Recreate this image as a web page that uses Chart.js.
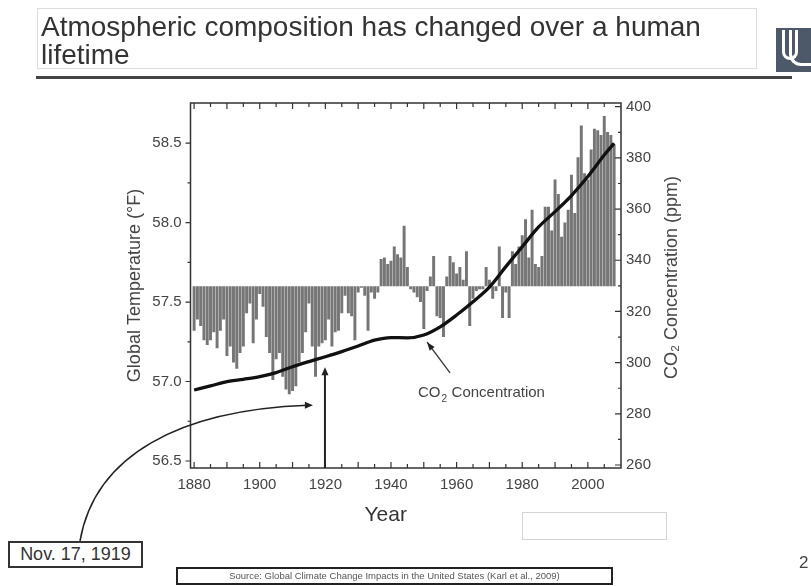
<!DOCTYPE html>
<html>
<head>
<meta charset="utf-8">
<script src="https://cdn.jsdelivr.net/npm/chart.js@4.4.1/dist/chart.umd.min.js"></script>
<style>
  body { margin: 0; background: #fff; font-family: "Liberation Sans", Arial, sans-serif; }
  #wrap { position: relative; width: 811px; height: 586px; overflow: hidden; }
  canvas { position: absolute; left: 0; top: 0; }
  .box { position: absolute; box-sizing: border-box; color: #333; }
</style>
</head>
<body>
<div id="wrap">
  <canvas id="myChart" width="811" height="586"></canvas>

  <div class="box" style="left:37px;top:8px;width:720px;height:61px;border:1px solid #ddd;font-size:28px;line-height:28px;padding:4px 0 0 3px;white-space:nowrap">Atmospheric composition has changed over a human<br>lifetime</div>
  <div class="box" style="left:36px;top:76px;width:756px;height:3px;background:#444"></div>
  <div class="box" style="left:776px;top:28px;width:35px;height:44px;background:#4d5868"></div>
  <div class="box" style="left:782px;top:30px;width:16px;height:30px;border:3px solid #fff;border-top:none;border-radius:0 0 9px 9px"></div>
  <div class="box" style="left:789px;top:30px;width:22px;height:36px;border:3px solid #fff;border-top:none;border-right:none;border-radius:0 0 0 12px"></div>

  <div class="box" style="left:8px;top:541px;width:135px;height:27px;border:2px solid #333;font-size:18px;line-height:23px;text-align:center;background:#fff">Nov. 17, 1919</div>
  <div class="box" style="left:522px;top:512px;width:145px;height:28px;border:1px solid #d4d4d4"></div>
  <div class="box" style="left:176px;top:567px;width:437px;height:18px;border:2px solid #222;font-size:9.5px;line-height:14px;text-align:center;color:#555">Source: Global Climate Change Impacts in the United States (Karl et al., 2009)</div>
  <div class="box" style="left:799px;top:553px;font-size:17px;color:#444">2</div>
</div>

<script>
// temperature bars, one per year (global temperature, °F)
const years = [];
for (let yr = 1880; yr <= 2008; yr++) years.push(yr);
const temps = [
  57.32, 57.39, 57.35, 57.26, 57.23, 57.26, 57.31, 57.21, 57.32, 57.39, // 1880s
  57.16, 57.22, 57.12, 57.08, 57.18, 57.22, 57.43, 57.49, 57.24, 57.39, // 1890s
  57.55, 57.47, 57.28, 57.18, 57.01, 57.14, 57.18, 57.03, 56.95, 56.92, // 1900s
  56.94, 56.97, 57.12, 57.18, 57.31, 57.49, 57.22, 57.03, 57.22, 57.24, // 1910s
  57.26, 57.39, 57.22, 57.31, 57.32, 57.43, 57.54, 57.43, 57.41, 57.26, // 1920s
  57.56, 57.59, 57.54, 57.32, 57.56, 57.52, 57.56, 57.77, 57.78, 57.74, // 1930s
  57.76, 57.85, 57.80, 57.78, 57.98, 57.72, 57.58, 57.56, 57.53, 57.50, // 1940s
  57.33, 57.57, 57.66, 57.79, 57.41, 57.40, 57.28, 57.66, 57.79, 57.75, // 1950s
  57.68, 57.72, 57.64, 57.82, 57.35, 57.52, 57.57, 57.58, 57.58, 57.72, // 1960s
  57.64, 57.52, 57.57, 57.85, 57.40, 57.56, 57.40, 57.82, 57.74, 57.85, // 1970s
  57.92, 58.02, 57.78, 58.08, 57.74, 57.72, 57.79, 58.10, 58.10, 57.95, // 1980s
  58.27, 58.18, 57.91, 58.00, 58.08, 58.30, 58.06, 58.41, 58.61, 58.31, // 1990s
  58.27, 58.46, 58.59, 58.58, 58.55, 58.67, 58.57, 58.55, 58.49        // 2000s
];
const baseTemp = 57.6;

// CO2 concentration curve (ppm)
const co2Years = [1880, 1885, 1890, 1895, 1900, 1905, 1910, 1915, 1920, 1925, 1930, 1935, 1940,
                  1945, 1950, 1955, 1960, 1965, 1970, 1975, 1980, 1985, 1990, 1995, 2000, 2005, 2008];
const co2Values = [289.3, 290.9, 292.6, 293.5, 294.5, 296.1, 298.4, 300.4, 302.3, 304.3, 306.5, 308.8, 309.8,
                   309.7, 310.8, 314.0, 318.6, 323.8, 329.5, 337.5, 345.3, 353.0, 359.0, 365.3, 372.7, 381.1, 385.7];

// tick labels
const yearTicks = [1880, 1900, 1920, 1940, 1960, 1980, 2000];
const tempTicks = [56.5, 57.0, 57.5, 58.0, 58.5];
const co2Ticks = [260, 280, 300, 320, 340, 360, 380, 400];

const eventDate = 1919 + 320 / 365; // Nov. 17, 1919

Chart.defaults.font.family = '"Liberation Sans", Arial, sans-serif';
Chart.defaults.color = '#444';

const frameAndNotes = {
  id: 'frameAndNotes',
  afterDatasetsDraw(chart) {
    const { ctx, chartArea: a, scales: { x, y, y1 } } = chart;
    ctx.save();

    // frame
    ctx.strokeStyle = '#333';
    ctx.lineWidth = 1.5;
    ctx.strokeRect(a.left, a.top, a.right - a.left, a.bottom - a.top);

    // ticks
    ctx.lineWidth = 1.2;
    ctx.beginPath();
    for (let yr = 1880; yr <= 2005; yr += 5) {
      const px = x.getPixelForValue(yr);
      const len = yr % 10 === 0 ? 6 : 4;
      ctx.moveTo(px, a.bottom); ctx.lineTo(px, a.bottom - len);
      ctx.moveTo(px, a.top); ctx.lineTo(px, a.top + len);
    }
    for (let t = 56.5; t <= 58.51; t += 0.25) {
      const py = y.getPixelForValue(t);
      const major = Math.abs(t * 2 - Math.round(t * 2)) < 0.01;
      ctx.moveTo(a.left, py); ctx.lineTo(a.left - (major ? 5 : 3), py);
    }
    for (let c = 260; c <= 400; c += 10) {
      const py = y1.getPixelForValue(c);
      ctx.moveTo(a.right, py); ctx.lineTo(a.right - (c % 20 === 0 ? 6 : 3), py);
    }
    ctx.stroke();

    // axis titles
    ctx.fillStyle = '#444';
    ctx.textAlign = 'center';
    ctx.textBaseline = 'middle';
    ctx.font = '18px "Liberation Sans", Arial, sans-serif';
    ctx.save();
    ctx.translate(672, (a.top + a.bottom) / 2 - 8);
    ctx.rotate(-Math.PI / 2);
    ctx.fillText('CO\u2082 Concentration (ppm)', 0, 0);
    ctx.restore();
    ctx.fillStyle = '#333';
    ctx.font = '21px "Liberation Sans", Arial, sans-serif';
    ctx.fillText('Year', (a.left + a.right) / 2 - 20, a.bottom + 47);

    // Nov. 17, 1919 vertical arrow
    const ex = x.getPixelForValue(eventDate);
    const ey = y.getPixelForValue(57.09);
    ctx.strokeStyle = '#222';
    ctx.fillStyle = '#222';
    ctx.lineWidth = 2;
    ctx.beginPath();
    ctx.moveTo(ex, a.bottom); ctx.lineTo(ex, ey + 6);
    ctx.stroke();
    ctx.beginPath();
    ctx.moveTo(ex, ey); ctx.lineTo(ex - 3.5, ey + 8); ctx.lineTo(ex + 3.5, ey + 8); ctx.closePath();
    ctx.fill();

    // curved arrow from the date box
    const cx = x.getPixelForValue(1916.2);
    const cy = y.getPixelForValue(56.85);
    ctx.lineWidth = 1.5;
    ctx.beginPath();
    ctx.moveTo(80, 541);
    ctx.bezierCurveTo(95, 455, 180, 410, cx - 5, cy);
    ctx.stroke();
    ctx.beginPath();
    ctx.moveTo(cx, cy); ctx.lineTo(cx - 8, cy - 3.5); ctx.lineTo(cx - 8, cy + 3.5); ctx.closePath();
    ctx.fill();

    // CO2 label and arrow
    const tx = x.getPixelForValue(1951), ty = y1.getPixelForValue(308);
    const sx = x.getPixelForValue(1958), sy = y1.getPixelForValue(296);
    ctx.strokeStyle = '#333';
    ctx.lineWidth = 1.3;
    ctx.beginPath();
    ctx.moveTo(sx, sy); ctx.lineTo(tx, ty);
    ctx.stroke();
    const ang = Math.atan2(ty - sy, tx - sx);
    ctx.beginPath();
    ctx.moveTo(tx, ty);
    ctx.lineTo(tx - 9 * Math.cos(ang - 0.35), ty - 9 * Math.sin(ang - 0.35));
    ctx.lineTo(tx - 9 * Math.cos(ang + 0.35), ty - 9 * Math.sin(ang + 0.35));
    ctx.closePath();
    ctx.fill();

    const lx = x.getPixelForValue(1948.2), ly = y1.getPixelForValue(288.1);
    ctx.fillStyle = '#444';
    ctx.textAlign = 'left';
    ctx.font = '15px "Liberation Sans", Arial, sans-serif';
    ctx.fillText('CO', lx, ly);
    const w1 = ctx.measureText('CO').width;
    ctx.font = '10px "Liberation Sans", Arial, sans-serif';
    ctx.fillText('2', lx + w1 + 1, ly + 6);
    ctx.font = '15px "Liberation Sans", Arial, sans-serif';
    ctx.fillText(' Concentration', lx + w1 + 7, ly);

    ctx.restore();
  }
};

const ctx = document.getElementById('myChart').getContext('2d');
const chart = new Chart(ctx, {
  type: 'bar',
  data: {
    datasets: [
      {
        type: 'line',
        label: 'CO2 Concentration',
        data: co2Years.map((yr, i) => ({ x: yr, y: co2Values[i] })),
        yAxisID: 'y1',
        borderColor: '#111',
        borderWidth: 3.3,
        pointRadius: 0,
        cubicInterpolationMode: 'monotone',
        order: 1
      },
      {
        type: 'bar',
        label: 'Global Temperature',
        data: years.map((yr, i) => ({ x: yr, y: [baseTemp, temps[i]] })),
        yAxisID: 'y',
        backgroundColor: '#767676',
        borderWidth: 0,
        barPercentage: 0.9,
        categoryPercentage: 1,
        order: 2
      }
    ]
  },
  options: {
    responsive: false,
    animation: false,
    devicePixelRatio: 1,
    layout: { padding: { left: 124, right: 128, top: 103, bottom: 58 } },
    plugins: { legend: { display: false }, tooltip: { enabled: false } },
    scales: {
      x: {
        type: 'linear',
        min: 1878.9,
        max: 2010.1,
        offset: false,
        grid: { display: false, drawTicks: false },
        border: { display: false },
        afterBuildTicks: s => { s.ticks = yearTicks.map(v => ({ value: v })); },
        afterFit: s => { s.height = 60; },
        ticks: { color: '#444', font: { size: 15 }, padding: 8, maxRotation: 0, autoSkip: false, callback: v => String(v) }
      },
      y: {
        position: 'left',
        min: 56.456,
        max: 58.752,
        grid: { display: false, drawTicks: false },
        border: { display: false },
        afterBuildTicks: s => { s.ticks = tempTicks.map(v => ({ value: v })); },
        afterFit: s => { s.width = 66.5; },
        ticks: { color: '#444', font: { size: 15 }, padding: 9, autoSkip: false, callback: v => v.toFixed(1) },
        title: { display: true, text: 'Global Temperature (°F)', color: '#444', font: { size: 18 }, padding: 0 }
      },
      y1: {
        position: 'right',
        min: 258.83,
        max: 401.45,
        grid: { display: false, drawTicks: false },
        border: { display: false },
        afterBuildTicks: s => { s.ticks = co2Ticks.map(v => ({ value: v })); },
        afterFit: s => { s.width = 62; },
        ticks: { color: '#444', font: { size: 15 }, padding: 5, autoSkip: false, callback: v => String(v) }
      }
    }
  },
  plugins: [frameAndNotes]
});
</script>
</body>
</html>
